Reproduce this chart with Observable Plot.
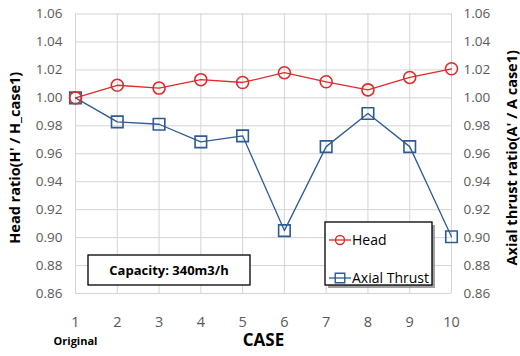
<!DOCTYPE html>
<html>
<head>
<meta charset="utf-8">
<script src="https://cdn.jsdelivr.net/npm/d3@7"></script>
<script src="https://cdn.jsdelivr.net/npm/@observablehq/plot@0.6"></script>
<style>
  html, body { margin: 0; padding: 0; background: #fff; }
</style>
</head>
<body>
<div id="chart"></div>
<script>
const cases = [1, 2, 3, 4, 5, 6, 7, 8, 9, 10];
const headRatio = [1.000, 1.009, 1.007, 1.013, 1.011, 1.018, 1.0115, 1.0057, 1.0146, 1.0208];
const axialThrust = [1.000, 0.9828, 0.9811, 0.9685, 0.9728, 0.905, 0.9651, 0.9888, 0.9651, 0.9006];
const yTicks = [0.86, 0.88, 0.90, 0.92, 0.94, 0.96, 0.98, 1.00, 1.02, 1.04, 1.06];
const seriesNames = ["Head", "Axial Thrust"];
const leftTitle = "Head ratio(H' / H_case1)";
const rightTitle = "Axial thrust ratio(A' / A case1)";
const xTitle = "CASE";
const firstCaseNote = "Original";
const noteText = "Capacity: 340m3/h";

const RED = "#e02b2b";
const BLUE = "#2e5b94";
const TICK = "#595959";
const FONT = "'Open Sans', 'Noto Sans', sans-serif";

const rows = cases.map((c, i) => ({case: c, head: headRatio[i], axial: axialThrust[i]}));

const chart = Plot.plot({
  width: 520,
  height: 356,
  marginLeft: 75,
  marginRight: 69,
  marginTop: 13.5,
  marginBottom: 63,
  style: {fontFamily: FONT, background: "#fff"},
  x: {domain: [1, 10]},
  y: {domain: [0.86, 1.06]},
  marks: [
    Plot.gridX(cases, {stroke: "#d4d4d4", strokeOpacity: 1, strokeWidth: 1}),
    Plot.gridY(yTicks, {stroke: "#d4d4d4", strokeOpacity: 1, strokeWidth: 1}),
    Plot.axisY(yTicks, {anchor: "left", tickSize: 0, tickPadding: 13, tickFormat: d => d.toFixed(2), fontSize: 13.5, fill: TICK, label: null}),
    Plot.axisY(yTicks, {anchor: "right", tickSize: 0, tickPadding: 12, tickFormat: d => d.toFixed(2), fontSize: 13.5, fill: TICK, label: null}),
    Plot.axisX(cases, {anchor: "bottom", tickSize: 0, tickPadding: 23, tickFormat: d => String(d), fontSize: 14.5, fill: TICK, label: null}),
    Plot.text([leftTitle], {frameAnchor: "left", textAnchor: "middle", dx: -60, dy: 4, rotate: -90, fontWeight: "bold", fontSize: 14.5, fill: "#000"}),
    Plot.text([rightTitle], {frameAnchor: "right", textAnchor: "middle", dx: 61, dy: 4, rotate: -90, fontWeight: "bold", fontSize: 14.5, fill: "#000"}),
    Plot.text([firstCaseNote], {x: () => cases[0], frameAnchor: "bottom", dy: 51, fontWeight: "bold", fontSize: 11, fill: "#000"}),
    Plot.text([xTitle], {frameAnchor: "bottom", dy: 52, fontWeight: "bold", fontSize: 17, fill: "#000"}),
    Plot.line(rows, {x: "case", y: "axial", stroke: BLUE, strokeWidth: 1.3}),
    Plot.line(rows, {x: "case", y: "head", stroke: RED, strokeWidth: 1.3}),
    Plot.dot(rows, {x: "case", y: "axial", symbol: "square", r: 6.5, stroke: BLUE, strokeWidth: 1.6, fill: "none"}),
    Plot.dot(rows, {x: "case", y: "head", symbol: "circle", r: 6, stroke: RED, strokeWidth: 1.6, fill: "none"})
  ]
});

document.getElementById("chart").appendChild(chart);

const svg = d3.select(chart);

// Capacity note box
const note = svg.append("g");
note.append("rect").attr("x", 88).attr("y", 255).attr("width", 162).attr("height", 30)
  .attr("fill", "#fff").attr("stroke", "#000").attr("stroke-width", 1.3);
note.append("text").attr("x", 169).attr("y", 270).attr("text-anchor", "middle").attr("dy", "0.35em")
  .attr("font-family", FONT).attr("font-weight", "bold").attr("font-size", 13).attr("fill", "#000").text(noteText);

// Legend
const lg = svg.append("g");
lg.append("rect").attr("x", 328).attr("y", 225).attr("width", 107).attr("height", 63).attr("fill", "#8a8a8a").attr("opacity", 0.8);
lg.append("rect").attr("x", 325).attr("y", 222).attr("width", 107).attr("height", 63)
  .attr("fill", "#fff").attr("stroke", "#000").attr("stroke-width", 1.3);
const items = [{name: seriesNames[0], color: RED, sym: d3.symbolCircle, y: 240}, {name: seriesNames[1], color: BLUE, sym: d3.symbolSquare, y: 278}];
items.forEach(it => {
  lg.append("line").attr("x1", 329).attr("x2", 351).attr("y1", it.y).attr("y2", it.y).attr("stroke", it.color).attr("stroke-width", 1.3);
  const size = it.sym === d3.symbolCircle ? Math.PI * 4.5 * 4.5 : 9.5 * 9.5;
  lg.append("path").attr("d", d3.symbol(it.sym, size)()).attr("transform", `translate(340,${it.y})`)
    .attr("fill", "none").attr("stroke", it.color).attr("stroke-width", 1.4);
  lg.append("text").attr("x", 352).attr("y", it.y).attr("dy", "0.35em").attr("text-anchor", "start").attr("font-family", FONT)
    .attr("font-size", 14).attr("fill", "#000").text(it.name);
});
</script>
</body>
</html>
